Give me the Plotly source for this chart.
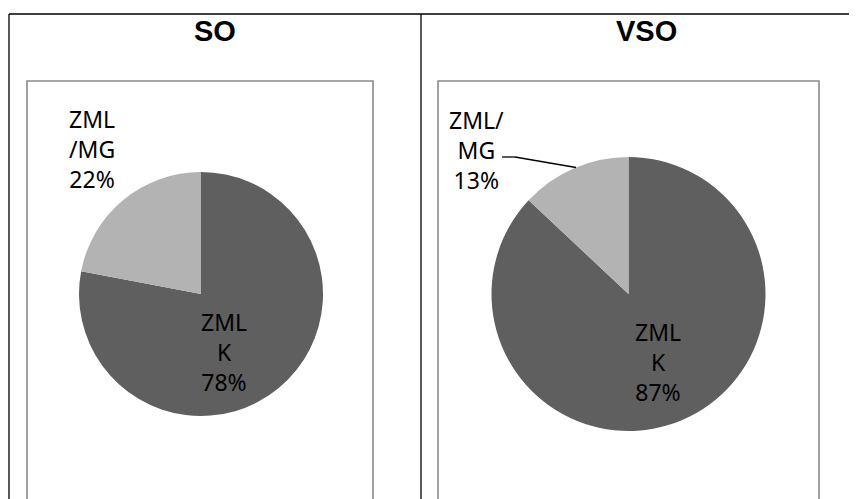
import plotly.graph_objects as go

# ---- data ----
panels = ["SO", "VSO"]
categories = ["ZMLK", "ZML/MG"]
so_values = [78, 22]
vso_values = [87, 13]
so_label_lines = [["ZML", "K"], ["ZML", "/MG"]]
vso_label_lines = [["ZML", "K"], ["ZML/", "MG"]]
slice_colors = ["#5f5f5f", "#b3b3b3"]

W, H = 857, 499
OFF = 8  # default page body margin


def px(x):
    return (x - OFF) / W


def py(y):
    return 1 - (y - OFF) / H


def dom(cx, cy, r):
    return dict(x=[px(cx - r), px(cx + r)], y=[py(cy + r), py(cy - r)])


fig = go.Figure()
fig.add_trace(go.Pie(labels=categories, values=so_values, sort=False,
                     direction="clockwise", rotation=0, textinfo="none",
                     marker=dict(colors=slice_colors, line=dict(width=0)),
                     domain=dom(201, 294, 122), showlegend=False, hoverinfo="skip"))
fig.add_trace(go.Pie(labels=categories, values=vso_values, sort=False,
                     direction="clockwise", rotation=0, textinfo="none",
                     marker=dict(colors=slice_colors, line=dict(width=0)),
                     domain=dom(628.5, 294, 137), showlegend=False, hoverinfo="skip"))

label_font = dict(family="Noto Sans", size=23, color="#000000")
title_font = dict(family="Liberation Sans", size=29, color="#000000")


def pct(vals, i):
    return f"{round(100 * vals[i] / sum(vals))}%"


def lbl(lines, vals, i):
    return "<br>".join(lines[i] + [pct(vals, i)])


annotations = [
    dict(text=f"<b>{panels[0]}</b>", x=px(215), y=py(31), font=title_font),
    dict(text=f"<b>{panels[1]}</b>", x=px(646), y=py(31), font=title_font),
    dict(text=lbl(so_label_lines, so_values, 0), x=px(224), y=py(352), font=label_font),
    dict(text=lbl(so_label_lines, so_values, 1), x=px(92), y=py(149), font=label_font),
    dict(text=lbl(vso_label_lines, vso_values, 0), x=px(658), y=py(362), font=label_font),
    dict(text=lbl(vso_label_lines, vso_values, 1), x=px(476), y=py(150), font=label_font),
]
for a in annotations:
    a.update(xref="paper", yref="paper", showarrow=False, xanchor="center", yanchor="middle")

black = dict(color="#000000", width=1.3)
gray = dict(color="#8a8a8a", width=1.6)
shapes = [
    dict(type="line", x0=px(9), x1=1.05, y0=py(14), y1=py(14), line=black),
    dict(type="line", x0=px(9), x1=px(9), y0=py(14), y1=-0.05, line=black),
    dict(type="line", x0=px(421), x1=px(421), y0=py(14), y1=-0.05, line=black),
    dict(type="rect", x0=px(27), x1=px(373), y0=py(81), y1=-0.05, line=gray),
    dict(type="rect", x0=px(438), x1=px(819), y0=py(81), y1=-0.05, line=gray),
    dict(type="line", x0=px(502), x1=px(515), y0=py(157), y1=py(157),
         line=dict(color="#000000", width=1.3)),
    dict(type="line", x0=px(515), x1=px(576), y0=py(157), y1=py(167.5),
         line=dict(color="#000000", width=1.3)),
]
for s in shapes:
    s.update(xref="paper", yref="paper")

fig.update_layout(width=W, height=H, margin=dict(l=0, r=0, t=0, b=0),
                  paper_bgcolor="white", plot_bgcolor="white",
                  annotations=annotations, shapes=shapes, showlegend=False)

fig.write_html("out.html")
